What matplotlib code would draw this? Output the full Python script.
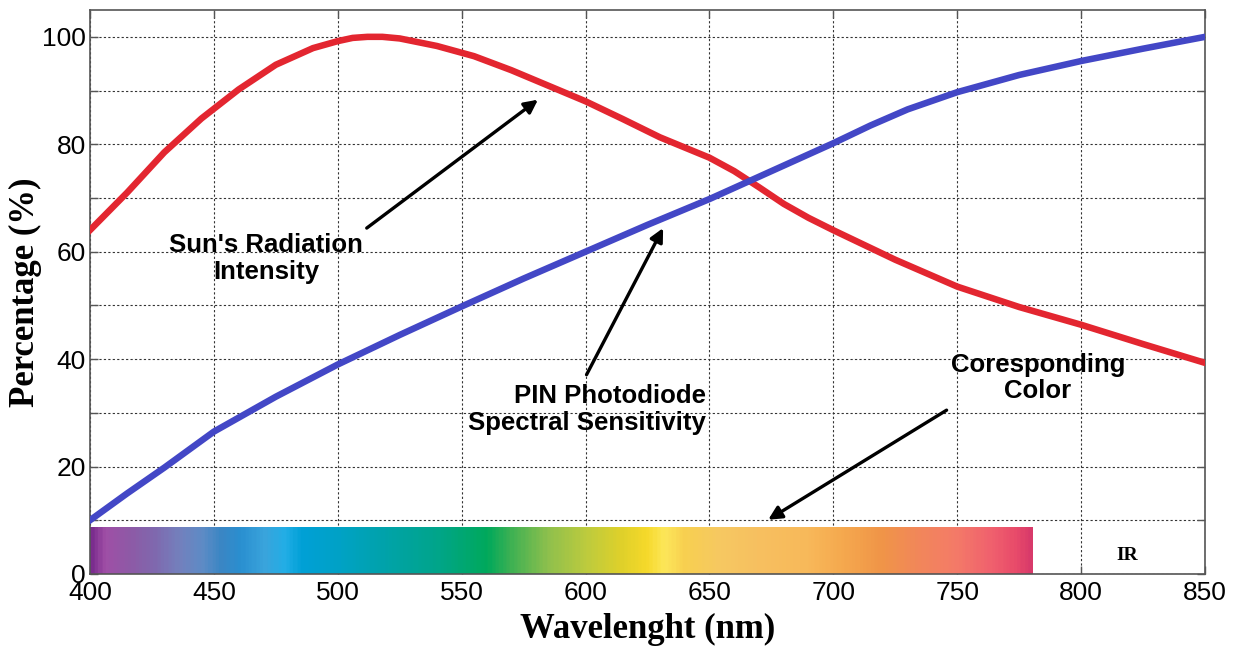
import numpy as np
import matplotlib
matplotlib.use('Agg')
import matplotlib.pyplot as plt
from matplotlib.colors import LinearSegmentedColormap

# Sun's radiation intensity (red)
sun_nm = [400, 415, 430, 445, 460, 475, 490, 500, 506, 512, 518, 525, 540, 555, 570, 585, 600,
          615, 630, 650, 660, 670, 680, 690, 700, 725, 750, 775, 800, 825, 850]
sun_pct = [64, 71, 78.5, 84.8, 90.2, 94.8, 97.9, 99.2, 99.8, 100, 100, 99.7, 98.3, 96.4, 93.8,
           90.9, 88, 84.7, 81.3, 77.5, 75, 72, 68.9, 66.3, 64, 58.5, 53.5, 49.7, 46.4, 42.8, 39.3]

# PIN photodiode spectral sensitivity (blue)
pin_nm = [400, 415, 430, 450, 475, 500, 525, 550, 575, 600, 625, 650, 675, 700,
          715, 730, 750, 775, 800, 825, 850]
pin_pct = [10, 15, 19.8, 26.5, 33, 39, 44.5, 49.8, 55, 60, 65, 69.8, 75, 80.2,
           83.5, 86.5, 89.7, 92.9, 95.5, 97.8, 100]

# visible spectrum strip
spec_nm = [400, 405, 415, 425, 435, 445, 452, 460, 470, 478, 485, 500, 520, 540, 560, 570,
           585, 600, 615, 625, 632, 640, 655, 670, 690, 705, 720, 735, 750, 765, 775, 780.5]
spec_col = ['#7b2d8e', '#a04fa6', '#8e5aa6', '#8068ae', '#7480bd', '#5d8cc6', '#3b86c4',
            '#2a8fd0', '#3aa4dc', '#22aee6', '#00a0d6', '#00a2c6', '#00a3a8', '#00a58a',
            '#00a95c', '#3fb153', '#8fc04d', '#bccb3e', '#e0d12a', '#f6d92a', '#fde75a',
            '#f8d050', '#f6c862', '#f7c060', '#f8b95a', '#f5a84e', '#f09548', '#f2875a',
            '#f47b68', '#f0606e', '#e84a6a', '#d83a6a']
spec_top = 8.7

xticks = list(range(400, 851, 50))
yticks = list(range(0, 101, 10))
ylabels = [str(v) if v % 20 == 0 else '' for v in yticks]

sans = ['Liberation Sans', 'DejaVu Sans']
serif = ['Liberation Serif', 'DejaVu Serif']

fig = plt.figure(figsize=(12.39, 6.48), dpi=100)
ax = fig.add_axes([0.0726, 0.1142, 0.9, 0.8704])

# spectrum bar
pos = [(v - spec_nm[0]) / (spec_nm[-1] - spec_nm[0]) for v in spec_nm]
cmap = LinearSegmentedColormap.from_list('spec', list(zip(pos, spec_col)))
ax.imshow(np.linspace(0, 1, 600).reshape(1, -1), cmap=cmap, aspect='auto',
          extent=[spec_nm[0], spec_nm[-1], 0, spec_top], zorder=1.5)

ax.plot(sun_nm, sun_pct, color='#e32630', lw=4.7, solid_joinstyle='round', zorder=3)
ax.plot(pin_nm, pin_pct, color='#4347c6', lw=4.7, solid_joinstyle='round', zorder=3)

ax.set_xlim(400, 850)
ax.set_ylim(0, 105)
ax.set_xticks(xticks)
ax.set_yticks(yticks)
ax.set_yticklabels(ylabels)
ax.grid(True, color='#333333', linestyle=(0, (2, 2)), lw=0.8)
ax.set_axisbelow(True)
ax.tick_params(direction='in', top=True, right=True, length=6, width=1, color='#555555',
               labelsize=19)
ax.tick_params(axis='x', pad=5)
ax.tick_params(axis='y', pad=3)
for lab in ax.get_xticklabels() + ax.get_yticklabels():
    lab.set_family(sans)
for s in ax.spines.values():
    s.set_color('#555555')
    s.set_linewidth(1.2)

ax.set_xlabel('Wavelenght (nm)', family=serif, fontweight='bold', fontsize=25, labelpad=6)
ax.set_ylabel('Percentage (%)', family=serif, fontweight='bold', fontsize=25, labelpad=0)

ax.text(818.5, 3.5, 'IR', family=serif, fontweight='bold', fontsize=14,
        ha='center', va='center')

txt = dict(family=sans, fontweight='bold', fontsize=18.5, linespacing=1.15)
ax.text(471, 58.7, "Sun's Radiation\nIntensity", ha='center', va='center',
        multialignment='center', **txt)
ax.text(648.5, 30.7, 'PIN Photodiode\nSpectral Sensitivity', ha='right', va='center',
        multialignment='right', **txt)
ax.text(782.6, 36.5, 'Coresponding\nColor', ha='center', va='center',
        multialignment='center', **txt)

arrow = dict(arrowstyle='-|>', color='black', lw=2.4, mutation_scale=20,
             shrinkA=0, shrinkB=0)
ax.annotate('', xy=(580.8, 88.3), xytext=(511.7, 64.4), arrowprops=arrow, zorder=4)
ax.annotate('', xy=(631.3, 64.4), xytext=(600.4, 37.1), arrowprops=arrow, zorder=4)
ax.annotate('', xy=(673.7, 10.1), xytext=(745.7, 30.5), arrowprops=arrow, zorder=4)

plt.savefig('out.png', dpi=100)
plt.close()
